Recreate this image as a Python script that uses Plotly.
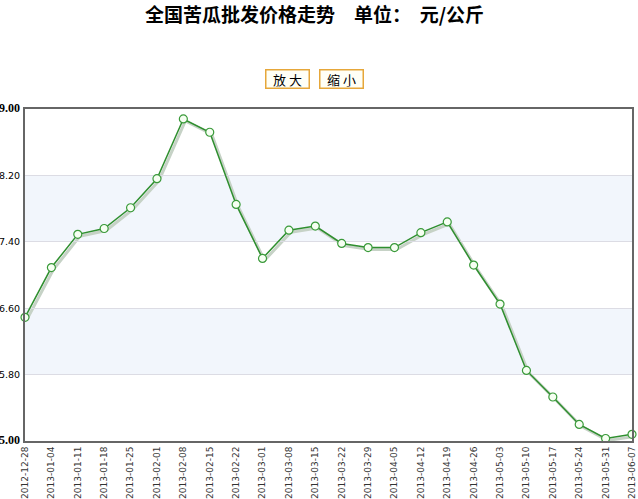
import plotly.graph_objects as go

# weekly wholesale price of bitter melon, yuan/kg
dates = ["2012-12-28", "2013-01-04", "2013-01-11", "2013-01-18", "2013-01-25",
         "2013-02-01", "2013-02-08", "2013-02-15", "2013-02-22", "2013-03-01",
         "2013-03-08", "2013-03-15", "2013-03-22", "2013-03-29", "2013-04-05",
         "2013-04-12", "2013-04-19", "2013-04-26", "2013-05-03", "2013-05-10",
         "2013-05-17", "2013-05-24", "2013-05-31", "2013-06-07"]
prices = [6.49, 7.09, 7.49, 7.56, 7.81, 8.16, 8.88, 8.72, 7.85, 7.20,
          7.54, 7.59, 7.38, 7.33, 7.33, 7.51, 7.64, 7.12, 6.65, 5.85,
          5.53, 5.20, 5.03, 5.08]
y_ticks = [5.0, 5.8, 6.6, 7.4, 8.2, 9.0]
y_labels = ["5.00", "5.80", "6.60", "7.40", "8.20", "9.00"]
bands = [(5.8, 6.6), (7.4, 8.2)]
y_min, y_max = 5.0, 9.0

W, H = 638, 499
ML, MR, MT, MB = 25, 4, 109, 56
pw = W - ML - MR
ph = H - MT - MB
dx = 2 / pw
dy = 2 / ph


def px_to_paper(px, py):
    return (px - ML) / pw, (H - MB - py) / ph


def tick_text(label, i):
    # first and last labels are bold serif, as in the original
    if i in (0, len(y_labels) - 1):
        return ("<b><span style='font-family:Liberation Serif;font-size:12px'>"
                + label + "</span></b>")
    return label


fig = go.Figure()

# soft shadow under the line, on its own subplot shifted 2px right/down
fig.add_trace(go.Scatter(
    x=dates, y=prices, mode="lines", xaxis="x", yaxis="y",
    line=dict(color="#c6d2c6", width=3), hoverinfo="skip", showlegend=False,
))

fig.add_trace(go.Scatter(
    x=dates, y=prices, mode="lines+markers", xaxis="x2", yaxis="y2",
    line=dict(color="#2f8f2f", width=1.5),
    marker=dict(symbol="circle", size=8, color="#f6fff2",
                line=dict(color="#3a9a3a", width=1.2)),
    cliponaxis=False, showlegend=False,
))

# alternating bands, in paper units so they sit under both subplots
for lo, hi in bands:
    fig.add_shape(type="rect", xref="paper", yref="paper", x0=0, x1=1 - dx,
                  y0=dy + (lo - y_min) / (y_max - y_min) * (1 - dy),
                  y1=dy + (hi - y_min) / (y_max - y_min) * (1 - dy),
                  fillcolor="#f2f6fc", line_width=0, layer="below")

n = len(dates) - 1
fig.update_layout(
    width=W, height=H,
    margin=dict(l=ML, r=MR, t=MT, b=MB),
    plot_bgcolor="rgba(0,0,0,0)", paper_bgcolor="white",
    xaxis=dict(type="category", domain=[dx, 1], range=[0, n], visible=False,
               anchor="y"),
    yaxis=dict(domain=[0, 1 - dy], range=[y_min, y_max], visible=False,
               anchor="x"),
    xaxis2=dict(type="category", domain=[0, 1 - dx], range=[0, n], anchor="y2",
                tickangle=-90, ticks="", showgrid=False,
                tickfont=dict(family="DejaVu Sans", size=9, color="#333333"),
                showline=True, linecolor="#666666", linewidth=2, mirror=True,
                zeroline=False, automargin=False),
    yaxis2=dict(domain=[dy, 1], range=[y_min, y_max], anchor="x2",
                tickvals=y_ticks,
                ticktext=[tick_text(t, i) for i, t in enumerate(y_labels)],
                ticks="", showgrid=True, gridcolor="#dcdce4", gridwidth=1,
                tickfont=dict(family="DejaVu Sans", size=9.5, color="#000000"),
                showline=True, linecolor="#666666", linewidth=2, mirror=True,
                zeroline=False, automargin=False, ticklabelstandoff=1),
)

tx, ty = px_to_paper(314.5, 14)
fig.add_annotation(
    x=tx, y=ty, xref="paper", yref="paper", showarrow=False,
    xanchor="center", yanchor="middle", borderpad=0,
    text="<b>全国苦瓜批发价格走势\u3000单位：\u00a0\u00a0元/公斤</b>",
    font=dict(family="Noto Sans CJK SC", size=19, color="#000000"),
)

for label, cx in [("放\u00a0大", 287.5), ("缩\u00a0小", 341.5)]:
    bx, by = px_to_paper(cx, 78.5)
    fig.add_annotation(
        x=bx, y=by, xref="paper", yref="paper", showarrow=False,
        xanchor="center", yanchor="middle",
        text=label, font=dict(family="Noto Sans CJK SC", size=13, color="#000000"),
        bgcolor="#fffff6", bordercolor="#e6a73a", borderwidth=1.5, borderpad=1,
        width=40, height=15,
    )

fig.write_html("out.html", config={"displayModeBar": False},
               post_script="document.body.style.margin='0';")
